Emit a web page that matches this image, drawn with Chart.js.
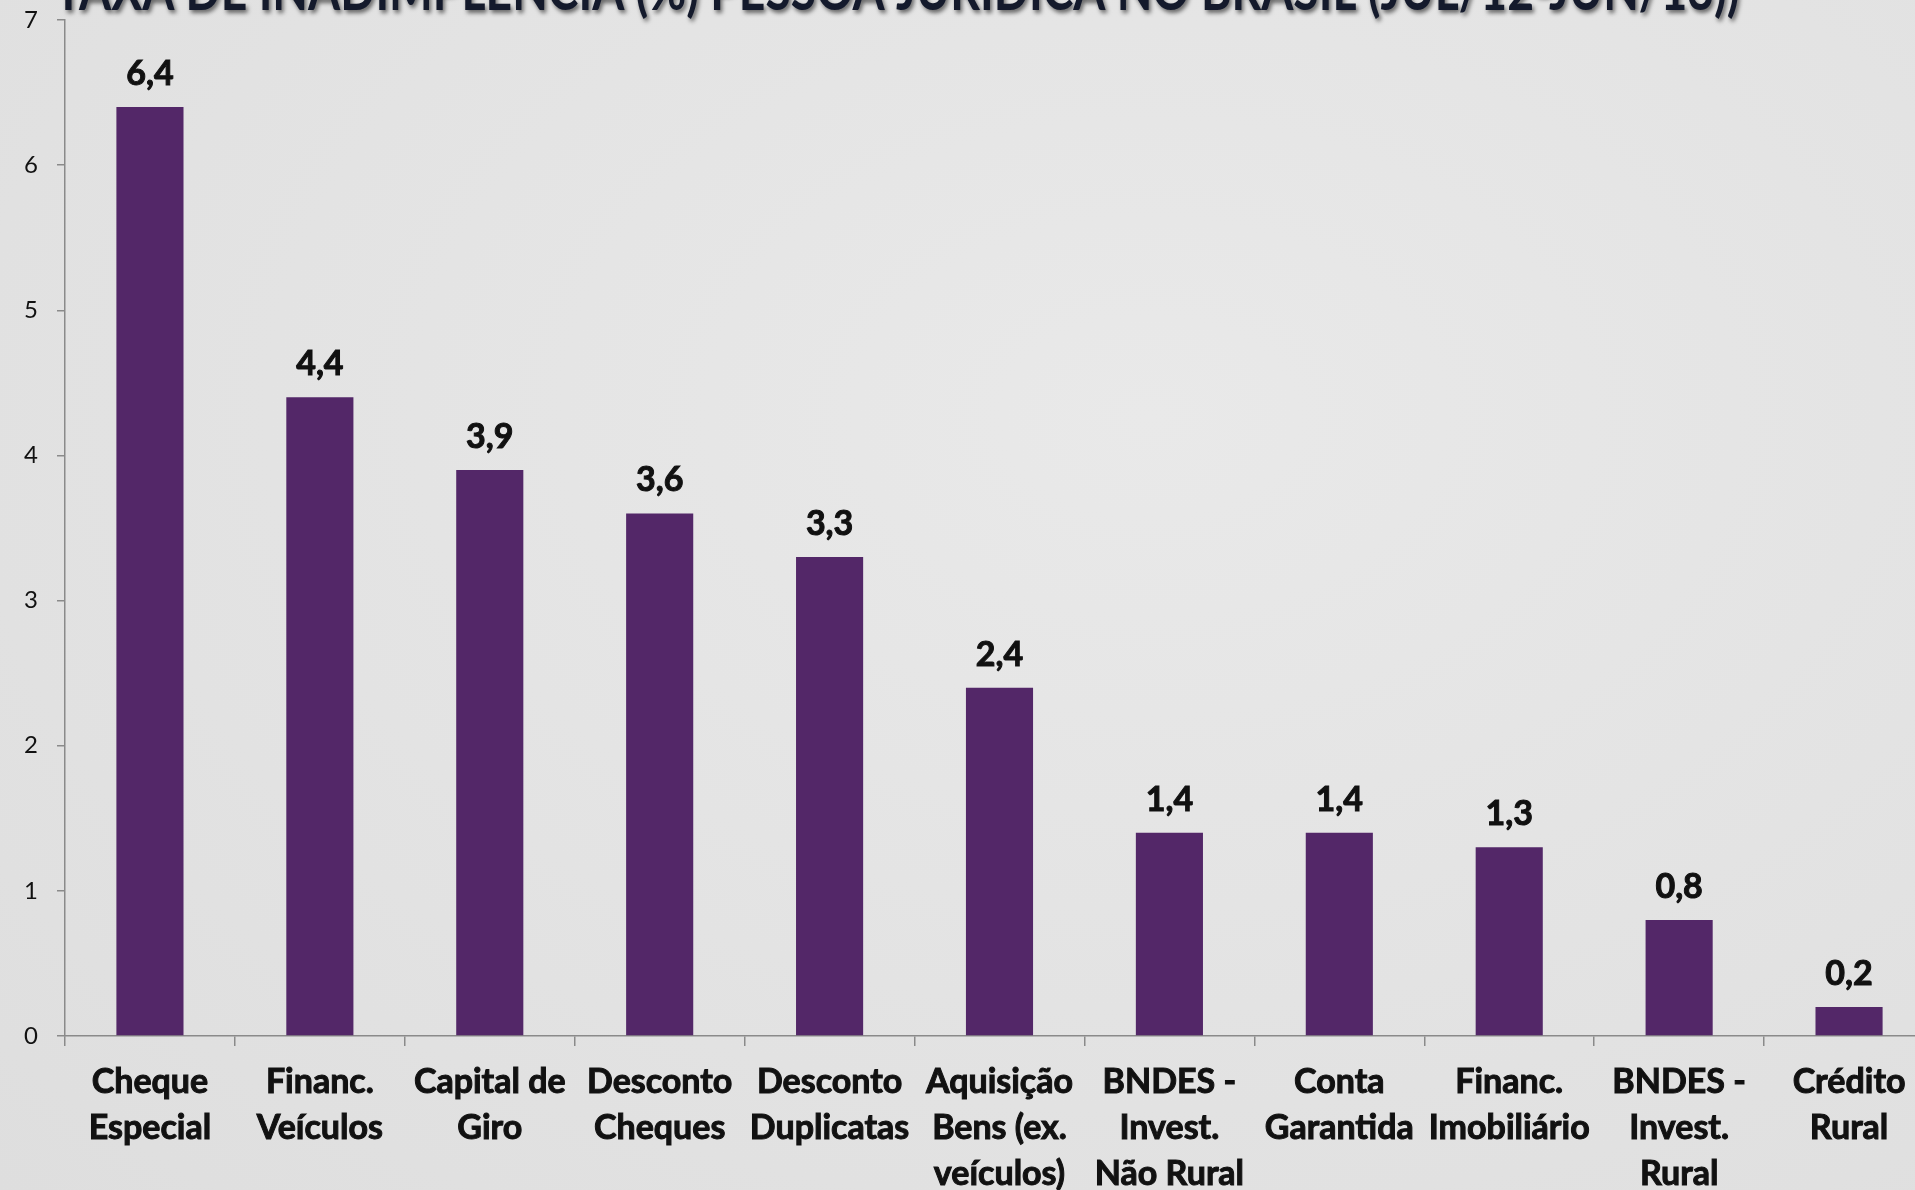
<!DOCTYPE html>
<html lang="pt-BR">
<head>
<meta charset="utf-8">
<title>Taxa de inadimplência PJ</title>
<script src="https://cdn.jsdelivr.net/npm/chart.js@4.4.1/dist/chart.umd.min.js"></script>
<style>
  html, body { margin: 0; padding: 0; }
  body { width: 1915px; height: 1190px; overflow: hidden; }
  #wrap {
    position: relative;
    width: 1915px;
    height: 1190px;
    overflow: hidden;
    background: radial-gradient(ellipse at 60% 35%, #e9e9e9 0%, #e4e4e4 45%, #dedede 100%);
  }
  #grafico { position: absolute; left: 0; top: 0; }
</style>
</head>
<body>
<div id="wrap">
  <canvas id="grafico" width="1950" height="1190"></canvas>
</div>
<script>
// modalidades de crédito (eixo x)
const categorias = [
  ['Cheque', 'Especial'],
  ['Financ.', 'Veículos'],
  ['Capital de', 'Giro'],
  ['Desconto', 'Cheques'],
  ['Desconto', 'Duplicatas'],
  ['Aquisição', 'Bens (ex.', 'veículos)'],
  ['BNDES -', 'Invest.', 'Não Rural'],
  ['Conta', 'Garantida'],
  ['Financ.', 'Imobiliário'],
  ['BNDES -', 'Invest.', 'Rural'],
  ['Crédito', 'Rural']
];

// taxa de inadimplência (%)
const taxas = [6.4, 4.4, 3.9, 3.6, 3.3, 2.4, 1.4, 1.4, 1.3, 0.8, 0.2];

// marcas do eixo y
const ticksY = [0, 1, 2, 3, 4, 5, 6, 7];

const titulo = 'TAXA DE INADIMPLÊNCIA (%) PESSOA JURÍDICA NO BRASIL (JUL/12-JUN/13))';

const corBarra = '#532768';
const corEixo = '#8a8a8a';
const corTexto = '#111111';

// rótulos de valor acima das barras (vírgula decimal)
const rotulosValor = {
  id: 'rotulosValor',
  afterDatasetsDraw(chart) {
    const ctx = chart.ctx;
    const meta = chart.getDatasetMeta(0);
    ctx.save();
    ctx.font = 'bold 34px Lato';
    ctx.fillStyle = corTexto;
    ctx.strokeStyle = corTexto;
    ctx.lineWidth = 1;
    ctx.textAlign = 'center';
    ctx.textBaseline = 'alphabetic';
    meta.data.forEach((barra, i) => {
      const txt = taxas[i].toFixed(1).replace('.', ',');
      ctx.fillText(txt, barra.x, barra.y - 22);
      ctx.strokeText(txt, barra.x, barra.y - 22);
    });
    ctx.restore();
  }
};

// título no topo, cortado pela borda
const tituloTopo = {
  id: 'tituloTopo',
  afterDraw(chart) {
    const ctx = chart.ctx;
    ctx.save();
    ctx.font = 'bold 58px Lato';
    const largura = ctx.measureText(titulo).width;
    const alvo = 1685;
    ctx.translate(897, 10);
    ctx.scale(alvo / largura, 1);
    ctx.shadowColor = 'rgba(0,0,0,0.55)';
    ctx.shadowOffsetX = 2;
    ctx.shadowOffsetY = 3;
    ctx.shadowBlur = 4;
    ctx.fillStyle = '#141a2c';
    ctx.textAlign = 'center';
    ctx.textBaseline = 'alphabetic';
    ctx.fillText(titulo, 0, 0);
    ctx.restore();
  }
};

const ctx = document.getElementById('grafico').getContext('2d');
new Chart(ctx, {
  type: 'bar',
  data: {
    labels: categorias,
    datasets: [{
      data: taxas,
      backgroundColor: corBarra,
      borderWidth: 0,
      barPercentage: 0.395,
      categoryPercentage: 1
    }]
  },
  options: {
    responsive: false,
    animation: false,
    devicePixelRatio: 1,
    layout: { padding: { top: 20, right: 16, left: 0, bottom: 0 } },
    plugins: {
      legend: { display: false },
      tooltip: { enabled: false },
      title: { display: false }
    },
    scales: {
      x: {
        afterFit(scale) {
          scale.height = 154;
          scale.paddingLeft = 0;
          scale.paddingRight = 0;
        },
        border: { display: true, color: corEixo, width: 1.5 },
        grid: {
          display: true,
          offset: true,
          drawOnChartArea: false,
          drawTicks: true,
          tickLength: 10,
          color: corEixo,
          lineWidth: 1.5
        },
        ticks: {
          autoSkip: false,
          maxRotation: 0,
          minRotation: 0,
          padding: 13,
          color: corTexto,
          textStrokeColor: corTexto,
          textStrokeWidth: 1,
          font: { family: 'Lato', weight: 'bold', size: 34, lineHeight: 1.35 }
        }
      },
      y: {
        min: 0,
        max: 7,
        afterFit(scale) {
          scale.width = 65;
          scale.paddingTop = 0;
          scale.paddingBottom = 0;
        },
        afterBuildTicks(scale) { scale.ticks = ticksY.map(v => ({ value: v })); },
        border: { display: true, color: corEixo, width: 1.5 },
        grid: {
          display: true,
          drawOnChartArea: false,
          drawTicks: true,
          tickLength: 8,
          color: corEixo,
          lineWidth: 1.5
        },
        ticks: {
          padding: 19,
          color: corTexto,
          font: { family: 'Lato', size: 24 }
        }
      }
    }
  },
  plugins: [rotulosValor, tituloTopo]
});
</script>
</body>
</html>
